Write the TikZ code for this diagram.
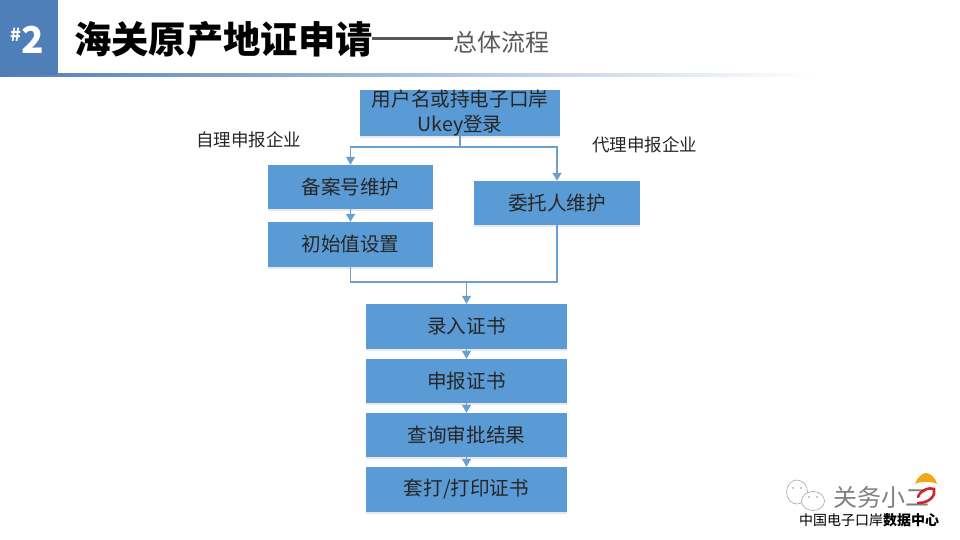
\documentclass[tikz,border=0pt]{standalone}
\usepackage{fontspec}
\setmainfont{Noto Sans CJK SC}
\usetikzlibrary{shadows,arrows.meta,calc}
\definecolor{boxblue}{HTML}{5B9BD5}
\definecolor{headblue}{HTML}{4F7FB8}
\definecolor{linkblue}{HTML}{6A9FD0}
\definecolor{subgray}{HTML}{595959}
\definecolor{logogold}{HTML}{F0A818}
\definecolor{logored}{HTML}{D0242C}
\tikzset{
  flowbox/.style={fill=boxblue,inner sep=0pt,align=center,text=black!85,font=\fontsize{19.6}{24}\selectfont,
    drop shadow={shadow xshift=0pt,shadow yshift=-2pt,opacity=0.18}},
  link/.style={draw=linkblue,line width=1.2pt},
  linktip/.style={link,-{Triangle[length=8pt,width=9pt]}},
  sidelabel/.style={font=\fontsize{17.5}{20}\selectfont,text=black!85,inner sep=0pt},
  bubble/.style={draw=black!35,fill=white,line width=0.6pt}
}
\begin{document}
\begin{tikzpicture}[x=1pt,y=-1pt]
  \useasboundingbox (0,0) rectangle (960,540);
  \fill[white] (0,0) rectangle (960,540);

  % Header
  \shade[left color=headblue,right color=white] (0,74) rectangle (815,77);
  \fill[headblue] (0,0) rectangle (58,75);
  \node[inner sep=0pt,text=white,font=\bfseries\fontsize{18}{18}\selectfont] (hash) at (16,35) {\#};
  \node[inner sep=0pt,text=white,font=\bfseries\fontsize{37}{37}\selectfont] (num) at (33,40) {2};
  \node[anchor=west,inner sep=0pt,font=\bfseries\fontsize{37.3}{37}\selectfont] (title) at (74,39) {海关原产地证申请};
  \fill[subgray] (372,37.5) rectangle (453,40.5);
  \node[anchor=west,inner sep=0pt,text=subgray,font=\fontsize{24}{24}\selectfont] (subtitle) at (453,42) {总体流程};

  % Boxes
  \node[flowbox,minimum width=200pt,minimum height=44pt] (login) at (460,113) {\raisebox{4pt}{用户名或持电子口岸}\\[-3pt]Ukey登录};
  \node[flowbox,minimum width=165pt,minimum height=44pt] (record) at (350.5,187) {备案号维护};
  \node[flowbox,minimum width=165pt,minimum height=45pt] (init) at (350.5,244.5) {初始值设置};
  \node[flowbox,minimum width=166pt,minimum height=44pt] (client) at (557,203) {委托人维护};
  \node[flowbox,minimum width=201pt,minimum height=45pt] (entry) at (466.5,326.5) {录入证书};
  \node[flowbox,minimum width=201pt,minimum height=44pt] (declare) at (466.5,381) {申报证书};
  \node[flowbox,minimum width=201pt,minimum height=44pt] (query) at (466.5,435) {查询审批结果};
  \node[flowbox,minimum width=201pt,minimum height=45pt] (print) at (466.5,489.5) {套打/打印证书};

  % Labels
  \node[sidelabel] (selflabel) at (248.5,140) {自理申报企业};
  \node[sidelabel] (agentlabel) at (644.5,145) {代理申报企业};

  % Arrows
  \coordinate (split) at (460,147);
  \coordinate (merge) at (466.5,282);
  \draw[link] (login.south) -- (split);
  \draw[linktip] (split) -| (record.north);
  \draw[linktip] (split) -| (client.north);
  \draw[linktip] (record) -- (init);
  \draw[link] (init.south) |- (merge);
  \draw[link] (client.south) |- (merge);
  \draw[linktip] (merge) -- (entry.north);
  \draw[linktip] (entry) -- (declare);
  \draw[linktip] (declare) -- (query);
  \draw[linktip] (query) -- (print);

  % Logo
  \draw[bubble] (797,492) ellipse (10.5 and 12);
  \draw[bubble] (813,501) ellipse (11.5 and 9.5);
  \fill[black!40] (793,488) circle (0.9) (801,488) circle (0.9) (809,497) circle (0.9) (817,497) circle (0.9);
  \node[anchor=west,inner sep=0pt,text=black!50,font=\fontsize{24}{24}\selectfont] (brand) at (833,497) {关务小二};
  \draw[logored,line width=2.6pt,line cap=round] (918,503) .. controls (930,503) and (936,495) .. (934,489) .. controls (930,487) and (920,490) .. (918,497);
  \fill[logogold] (915,484) .. controls (917,477) and (923,473) .. (926,473) .. controls (930,473) and (936,478) .. (937,484) .. controls (931,481) and (921,481) .. cycle;
  \node[inner sep=0pt,font=\fontsize{14}{16}\selectfont] (center) at (869,520) {中国电子口岸{\bfseries 数据中心}};
\end{tikzpicture}
\end{document}
